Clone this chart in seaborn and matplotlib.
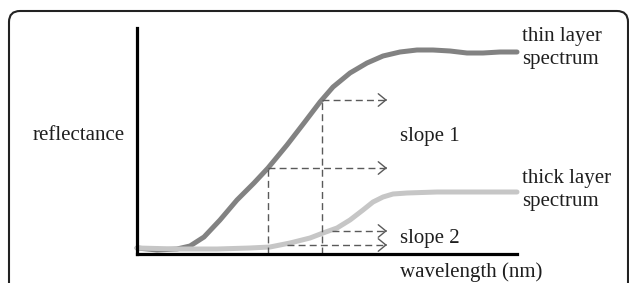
# Importation des modules nécessaires
import matplotlib
matplotlib.use("Agg")  # Pas d'affichage, on écrit seulement le fichier
import matplotlib.pyplot as plt  # Bibliothèque de visualisation
from matplotlib.patches import FancyBboxPatch  # Cadre arrondi autour de la figure
from matplotlib.transforms import IdentityTransform  # Coordonnées en pixels
import seaborn as sns  # Visualisation avancée
import pandas as pd  # Manipulation des données

# Données (longueur d'onde / réflectance, unités arbitraires)
thin_wl = [0, 20, 40, 53, 67, 83, 100, 117, 131, 150, 167, 183, 196, 213,
           230, 246, 263, 280, 296, 313, 330, 346, 363, 380]
thin_refl = [6, 4, 5, 8, 17, 34, 54, 71, 86, 109, 131, 152, 167, 181,
             191, 198, 202, 204, 204, 203, 201, 201, 202, 202]

thick_wl = [0, 40, 80, 113, 133, 153, 173, 186, 200, 213, 226, 236, 246, 256,
            270, 300, 340, 380]
thick_refl = [6, 5, 5, 6, 7, 11, 16, 21, 26, 34, 44, 52, 57, 60,
              61, 62, 62, 62]

# Longueurs d'onde où l'on lit les deux pentes
probe_wl = [131, 185]
thin_at_probe = [86, 154]
thick_at_probe = [9, 23]
thick_arrow_start = [150, 195]
arrow_end = 250

# Tableaux pour seaborn
df_thin = pd.DataFrame({"wl": thin_wl, "refl": thin_refl})
df_thick = pd.DataFrame({"wl": thick_wl, "refl": thick_refl})

# Style et police serif (type Times)
sns.set_style("white")
plt.rcParams["font.family"] = ["Liberation Serif", "DejaVu Serif"]

fig = plt.figure(figsize=(6.29, 2.83), dpi=100)
ax = fig.add_axes([137 / 629, 29 / 283, 380 / 629, 226 / 283])

# Les deux spectres
line_kw = dict(lw=3.6, estimator=None, sort=False, clip_on=False,
               solid_joinstyle="round")
sns.lineplot(data=df_thin, x="wl", y="refl", ax=ax, color="#828282", **line_kw)
sns.lineplot(data=df_thick, x="wl", y="refl", ax=ax, color="#c6c6c6", **line_kw)

dash_kw = dict(color="#5a5a5a", lw=1.0, dashes=(5, 3))
head_kw = dict(arrowstyle="->,head_length=0.55,head_width=0.45", color="#5a5a5a", lw=1.0)

# Lignes verticales pointillées + flèches du spectre fin
for wl, r in zip(probe_wl, thin_at_probe):
    ax.plot([wl, wl], [0, r], **dash_kw)
    ax.plot([wl, arrow_end - 1], [r, r], **dash_kw)
    ax.annotate("", xy=(arrow_end, r), xytext=(arrow_end - 2, r), arrowprops=head_kw)

# Flèches du spectre épais
for x0, r in zip(thick_arrow_start, thick_at_probe):
    ax.plot([x0, arrow_end - 1], [r, r], **dash_kw)
    ax.annotate("", xy=(arrow_end, r), xytext=(arrow_end - 2, r), arrowprops=head_kw)

# Axes : seulement les deux traits noirs
ax.set_xlim(0, 380)
ax.set_ylim(0, 226)
ax.set_xticks([])
ax.set_yticks([])
ax.set_xlabel("")
ax.set_ylabel("")
for side in ["top", "right"]:
    ax.spines[side].set_visible(False)
for side in ["left", "bottom"]:
    ax.spines[side].set_linewidth(2.3)
    ax.spines[side].set_color("black")
ax.patch.set_alpha(0)

# Textes
def px_text(x, y, s, **kw):
    fig.text(x / 629, 1 - y / 283, s, va="center", ha="left", fontsize=15, color="#1e1e1e", **kw)

px_text(33, 135, "reflectance")
px_text(522, 48, "thin layer\nspectrum", linespacing=1.35)
px_text(522, 190, "thick layer\nspectrum", linespacing=1.35)
px_text(400, 136, "slope 1")
px_text(400, 238, "slope 2")
px_text(400, 272, "wavelength (nm)")

# Cadre arrondi (coupé en bas)
frame = FancyBboxPatch((9, -40), 619, 312, boxstyle="round,pad=0,rounding_size=11",
                       transform=IdentityTransform(), fill=False, lw=1.5, ec="#222222")
fig.add_artist(frame)

fig.savefig("out.png", dpi=100)
